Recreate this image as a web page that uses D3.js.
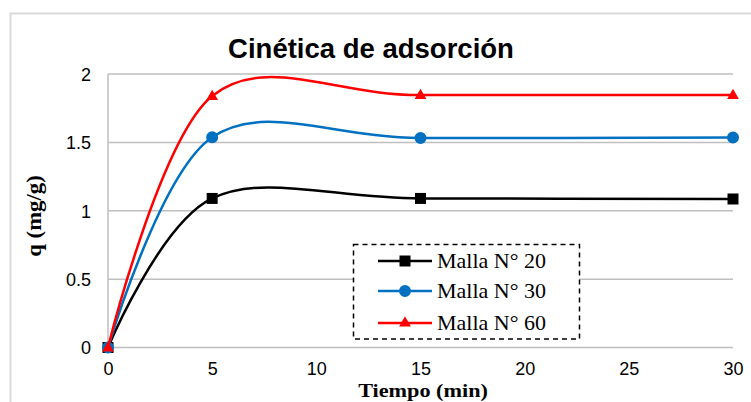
<!DOCTYPE html>
<html>
<head>
<meta charset="utf-8">
<script src="https://cdn.jsdelivr.net/npm/d3@7"></script>
<style>
  html, body { margin: 0; padding: 0; background: #fff; }
  svg { display: block; }
</style>
</head>
<body>
<svg id="chart" width="751" height="402"></svg>
<script>
// Adsorption kinetics: q (mg/g) versus time (min) for three mesh sizes
const tiempo = [0, 5, 15, 30];
const malla20 = [0, 1.09, 1.09, 1.086];
const malla30 = [0, 1.538, 1.532, 1.535];
const malla60 = [0, 1.839, 1.846, 1.846];
const seriesNames = ["Malla N° 20", "Malla N° 30", "Malla N° 60"];
const seriesColors = ["#000000", "#0070C0", "#FF0000"];
const seriesSymbols = ["square", "circle", "triangle"];
const xTicks = [0, 5, 10, 15, 20, 25, 30];
const yTicks = [0, 0.5, 1, 1.5, 2];

const svg = d3.select("#chart");
const plot = { left: 108, right: 733, top: 74, bottom: 347.5 };

// outer chart frame
svg.append("rect")
  .attr("x", 10.5).attr("y", 13.5)
  .attr("width", 800).attr("height", 500)
  .attr("fill", "#fff").attr("stroke", "#d9d9d9").attr("stroke-width", 2);

const x = d3.scaleLinear().domain([0, 30]).range([plot.left, plot.right]);
const y = d3.scaleLinear().domain([0, 2]).range([plot.bottom, plot.top]);

// horizontal gridlines
svg.append("g")
  .selectAll("line").data(yTicks).join("line")
  .attr("x1", plot.left).attr("x2", plot.right)
  .attr("y1", d => y(d)).attr("y2", d => y(d))
  .attr("stroke", "#bfbfbf").attr("stroke-width", 1.5);

// left axis line
svg.append("line")
  .attr("x1", plot.left).attr("x2", plot.left)
  .attr("y1", plot.top).attr("y2", plot.bottom)
  .attr("stroke", "#bfbfbf").attr("stroke-width", 1.5);

// y axis labels
const yAxis = d3.axisLeft(y).tickValues(yTicks).tickSize(0).tickPadding(17)
  .tickFormat(d3.format("~g"));
const gy = svg.append("g").attr("transform", `translate(${plot.left},0)`).call(yAxis);
gy.select(".domain").remove();
gy.selectAll("text")
  .attr("font-family", "Liberation Sans, Arial, sans-serif")
  .attr("font-size", 18).attr("fill", "#000").attr("dy", "0.35em");

// x axis labels
const xAxis = d3.axisBottom(x).tickValues(xTicks).tickSize(0).tickPadding(15)
  .tickFormat(d3.format("d"));
const gx = svg.append("g").attr("transform", `translate(0,${plot.bottom})`).call(xAxis);
gx.select(".domain").remove();
gx.selectAll("text")
  .attr("font-family", "Liberation Sans, Arial, sans-serif")
  .attr("font-size", 18).attr("fill", "#000");

// title
svg.append("text")
  .attr("x", 371).attr("y", 58)
  .attr("text-anchor", "middle")
  .attr("font-family", "Liberation Sans, Arial, sans-serif")
  .attr("font-weight", "bold").attr("font-size", 27.5)
  .text("Cinética de adsorción");

// axis titles
svg.append("text")
  .attr("transform", "translate(423,397) scale(1.17,1)")
  .attr("text-anchor", "middle")
  .attr("font-family", "Liberation Serif, Times New Roman, serif")
  .attr("font-weight", "bold").attr("font-size", 19)
  .text("Tiempo (min)");

svg.append("text")
  .attr("transform", "translate(41,216) rotate(-90) scale(1.14,1)")
  .attr("text-anchor", "middle")
  .attr("font-family", "Liberation Serif, Times New Roman, serif")
  .attr("font-weight", "bold").attr("font-size", 20)
  .text("q (mg/g)");

// series
const allSeries = [malla20, malla30, malla60];
const symbolType = { square: d3.symbolSquare, circle: d3.symbolCircle, triangle: d3.symbolTriangle };
const symbolSize = { square: 121, circle: 113, triangle: 60 };

const line = d3.line()
  .x(d => x(d[0])).y(d => y(d[1]))
  .curve(d3.curveCardinal.tension(0));

allSeries.forEach((vals, i) => {
  const pts = tiempo.map((t, j) => [t, vals[j]]);
  const g = svg.append("g");
  g.append("path")
    .attr("d", line(pts))
    .attr("fill", "none")
    .attr("stroke", seriesColors[i]).attr("stroke-width", 2.5);
  const sym = d3.symbol().type(symbolType[seriesSymbols[i]]).size(symbolSize[seriesSymbols[i]]);
  g.selectAll("path.m").data(pts).join("path")
    .attr("class", "m")
    .attr("d", sym)
    .attr("transform", d => `translate(${x(d[0])},${y(d[1]) + (seriesSymbols[i] === "triangle" ? 0.5 : 0)})`)
    .attr("fill", seriesColors[i]);
});

// legend
const lg = svg.append("g");
lg.append("rect")
  .attr("x", 353.5).attr("y", 244.5).attr("width", 226).attr("height", 94.5)
  .attr("fill", "#fff").attr("stroke", "#000").attr("stroke-width", 1.5)
  .attr("stroke-dasharray", "5,4");
const rowY = [261, 291, 323];
seriesNames.forEach((name, i) => {
  lg.append("line")
    .attr("x1", 378).attr("x2", 432).attr("y1", rowY[i]).attr("y2", rowY[i])
    .attr("stroke", seriesColors[i]).attr("stroke-width", 2.5);
  lg.append("path")
    .attr("d", d3.symbol().type(symbolType[seriesSymbols[i]]).size(symbolSize[seriesSymbols[i]]))
    .attr("transform", `translate(405,${rowY[i]})`)
    .attr("fill", seriesColors[i]);
  lg.append("text")
    .attr("x", 437).attr("y", rowY[i] + 7)
    .attr("font-family", "Liberation Serif, Times New Roman, serif")
    .attr("font-size", 22).attr("fill", "#000")
    .text(name);
});
</script>
</body>
</html>
